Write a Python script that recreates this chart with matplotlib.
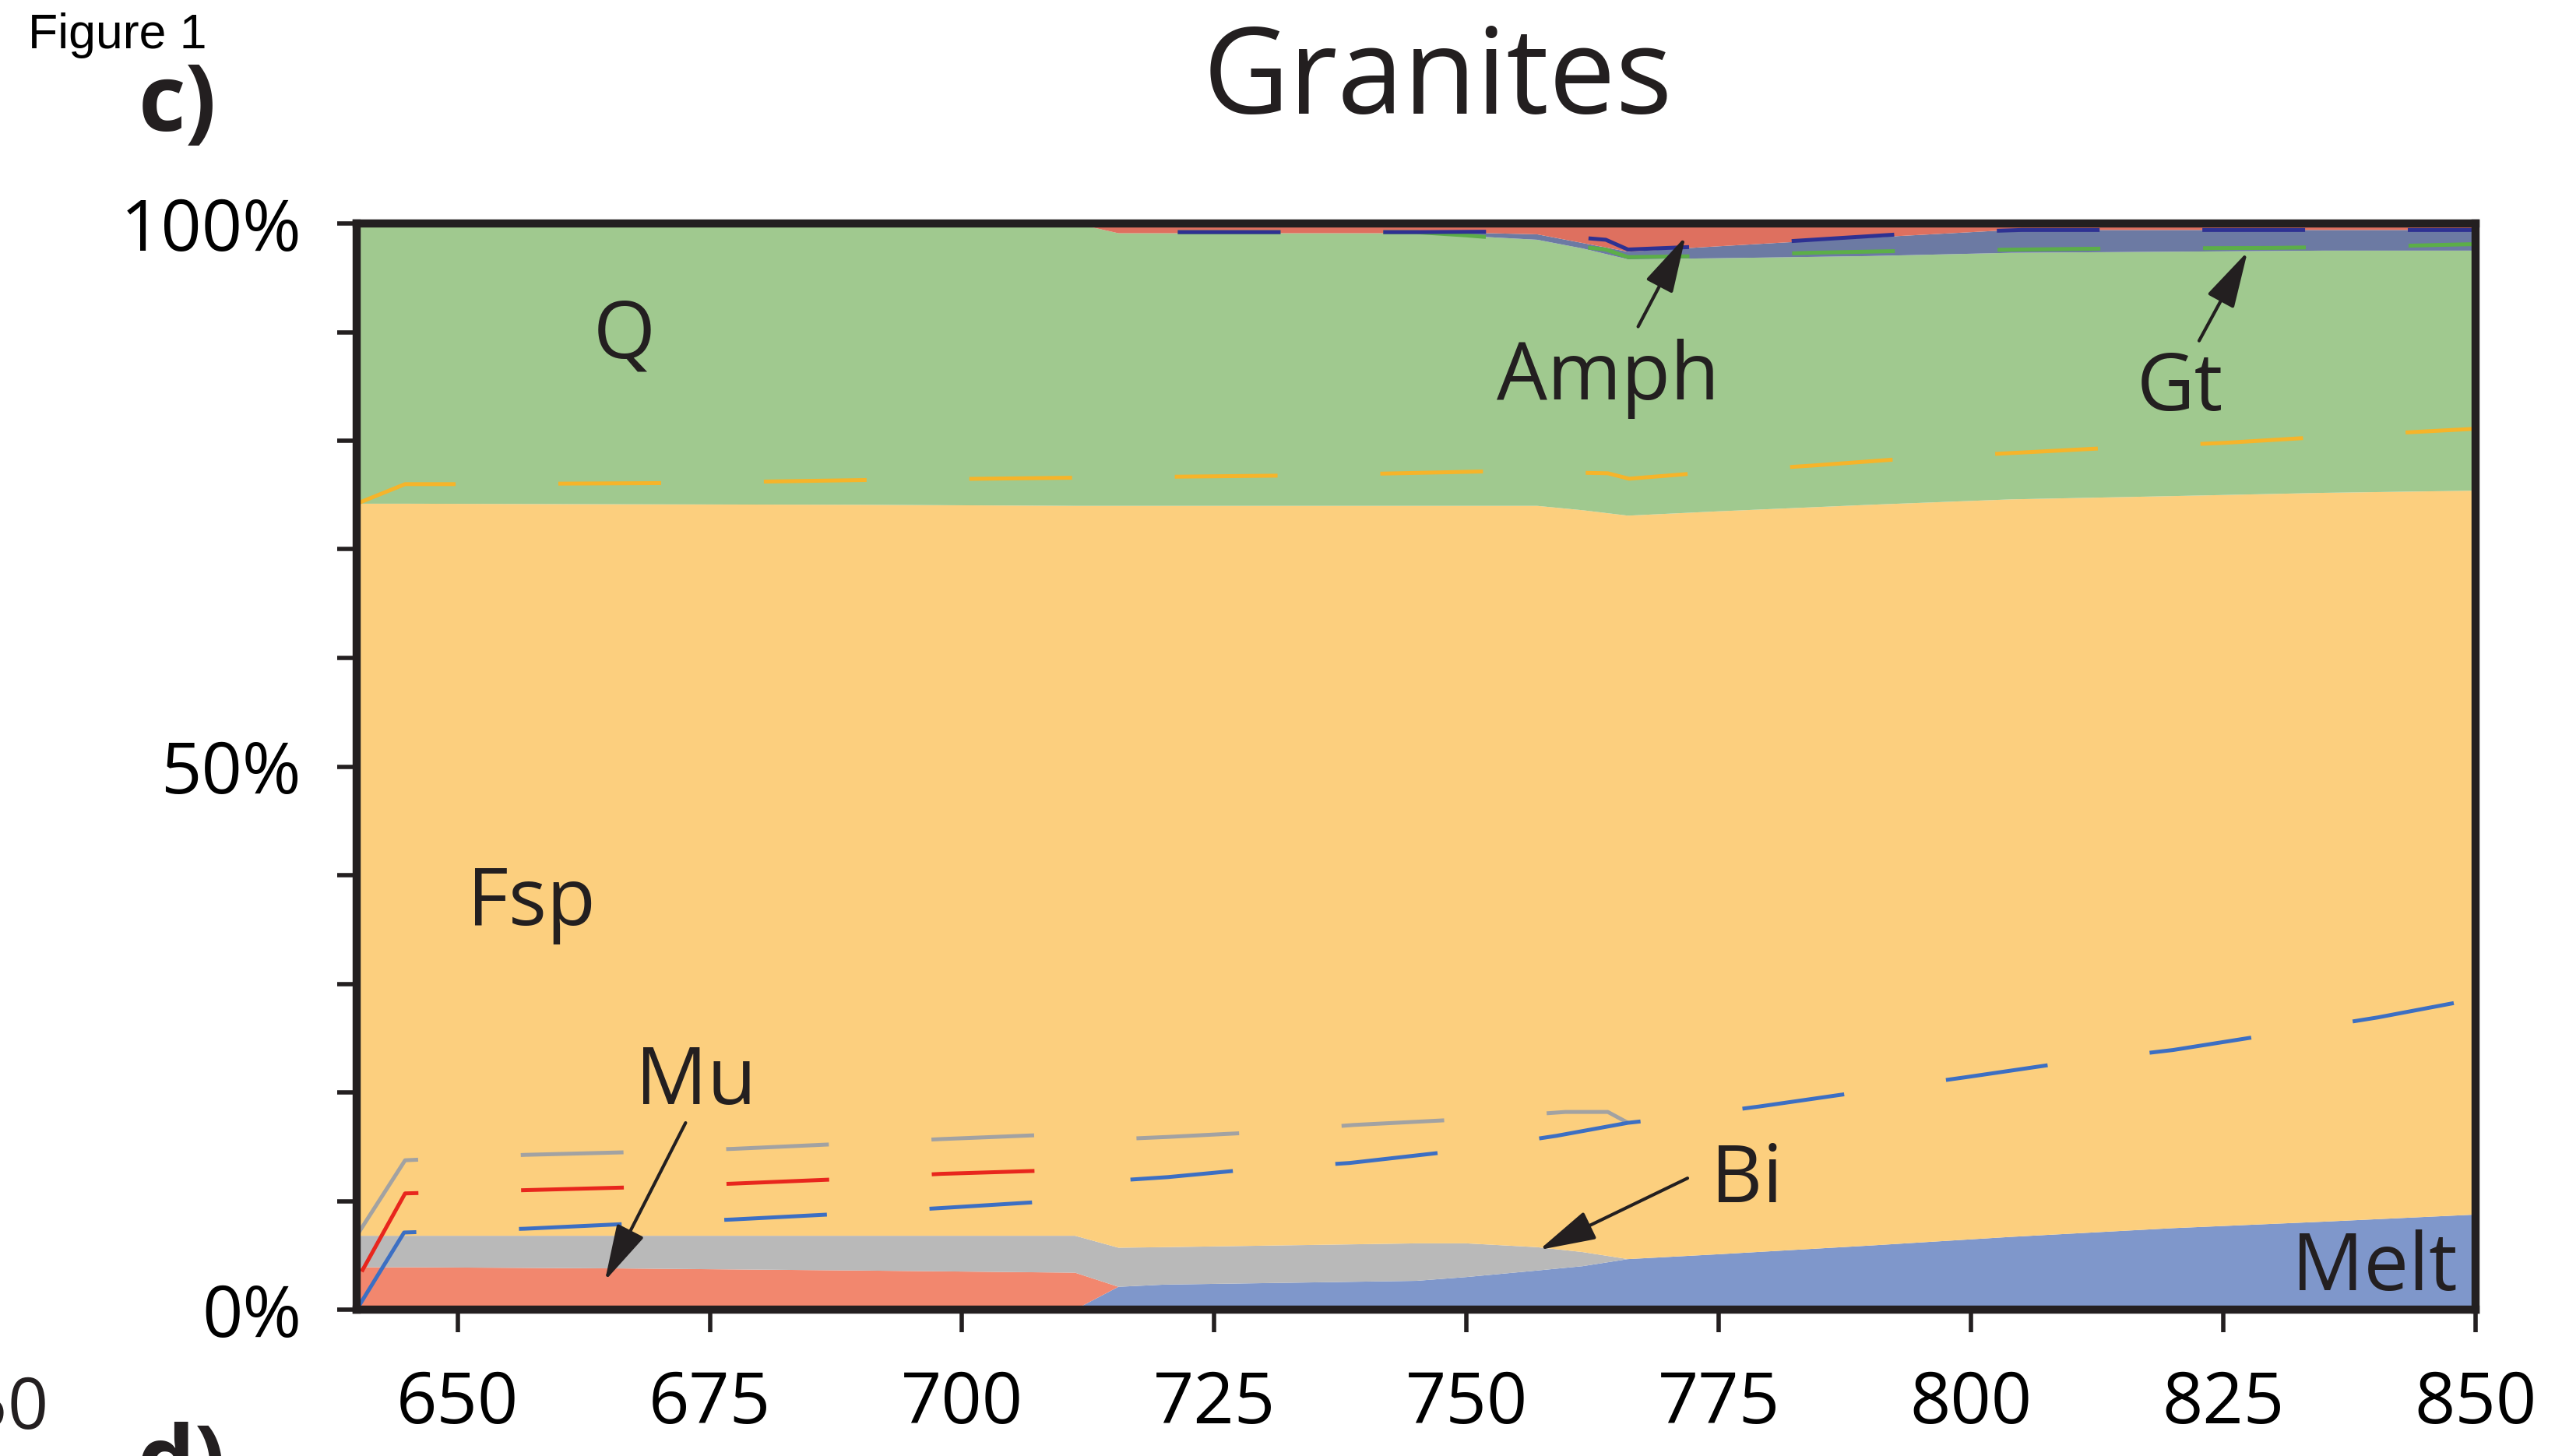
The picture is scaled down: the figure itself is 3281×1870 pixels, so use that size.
import matplotlib
matplotlib.use('Agg')
import matplotlib.pyplot as plt

plt.rcParams['font.family'] = ['Open Sans', 'DejaVu Sans']
plt.rcParams['lines.scale_dashes'] = False

# temperature (degC) and phase proportions (%), stacked from the bottom up
temp = [640, 645, 665, 690, 711.2, 715.5, 720, 745, 750, 757, 761.5, 766, 775, 790, 804, 820, 835, 850]
melt = [0, 0, 0, 0, 0, 2.1, 2.3, 2.65, 3.0, 3.6, 4.0, 4.65, 5.1, 5.9, 6.7, 7.5, 8.1, 8.75]
mu = [3.9, 3.9, 3.8, 3.6, 3.4, 0, 0, 0, 0, 0, 0, 0, 0, 0, 0, 0, 0, 0]
bi = [2.9, 2.9, 3.0, 3.2, 3.4, 3.6, 3.45, 3.45, 3.1, 2.15, 1.3, 0, 0, 0, 0, 0, 0, 0]
fsp = [67.4, 67.4, 67.35, 67.3, 67.2, 68.3, 68.25, 67.9, 67.9, 68.25, 68.3, 68.45, 68.4, 68.2, 67.9, 67.4, 67.1, 66.65]
qz = [25.8, 25.8, 25.85, 25.9, 26.0, 25.1, 25.1, 25.1, 24.85, 24.5, 24.1, 23.6, 23.3, 22.9, 22.7, 22.5, 22.3, 22.1]
gt = [0, 0, 0, 0, 0, 0, 0, 0, 0.3, 0.5, 0.5, 0.7, 1.1, 1.7, 2.1, 2.0, 1.9, 1.9]
amph = [0, 0, 0, 0, 0, 0.9, 0.9, 0.9, 0.85, 1.0, 1.8, 2.6, 2.1, 1.3, 0.6, 0.6, 0.6, 0.6]

phase_colors = ['#7f97cb', '#f2876e', '#b9b9b9', '#fccf7e', '#a0c98f', '#6c7aa3', '#de705f']

# dashed boundaries (cumulative %)
yel_t = [640, 644.8, 650.6, 671, 691.8, 712.2, 733, 753.4, 764, 766.1, 774.1, 784.1, 794.4, 804.8, 815.1, 825.1, 835.8, 850]
yel_v = [74.2, 76.0, 76.0, 76.1, 76.4, 76.6, 76.8, 77.2, 77.0, 76.5, 77.1, 77.7, 78.4, 78.9, 79.4, 79.8, 80.4, 81.1]

gry_t = [640, 644.8, 656.7, 667.3, 677.3, 687.9, 697.9, 708.5, 711.2, 715.5, 720.4, 728.8, 738.8, 749.3, 759.8, 764, 766]
gry_v = [6.8, 13.75, 14.25, 14.5, 14.8, 15.25, 15.7, 16.1, 16.2, 15.7, 15.9, 16.3, 17.0, 17.5, 18.2, 18.2, 17.2]

red_t = [640.5, 644.8, 656.7, 667, 677.3, 687.7, 697.9, 708.3, 711.2, 715.5]
red_v = [3.5, 10.7, 11.0, 11.25, 11.6, 12.0, 12.5, 12.8, 12.9, 11.9]

blu_t = [640, 644.7, 656.7, 667, 677.3, 687.7, 697.9, 708.3, 711.2, 715.5, 720.4, 728.4, 738.4, 748.9,
         758.9, 766, 769, 779, 789.5, 799.5, 809.8, 820, 830.2, 840.3, 850]
blu_v = [0, 7.1, 7.45, 7.9, 8.3, 8.8, 9.35, 9.95, 10.1, 11.9, 12.2, 12.9, 13.5, 14.6,
         16.0, 17.2, 17.5, 18.7, 20.1, 21.4, 22.8, 23.9, 25.4, 26.9, 28.6]

grn_t = [640, 711.2, 715.5, 745, 750, 754, 763.8, 766, 774, 784, 795, 805, 815, 830, 841, 850]
grn_v = [100, 100, 99.2, 99.2, 98.9, 98.6, 97.6, 96.9, 97.0, 97.3, 97.5, 97.6, 97.7, 97.75, 97.9, 98.1]

dkb_t = [640, 711.2, 715.5, 745, 754, 763.8, 766, 774, 784.3, 794.6, 805, 850]
dkb_v = [100, 100, 99.2, 99.2, 99.25, 98.5, 97.6, 97.9, 98.5, 99.1, 99.4, 99.4]

W, H = 3281, 1870
fig = plt.figure(figsize=(W / 100, H / 100), dpi=100)
ax = fig.add_axes([458 / W, 1 - 1682 / H, (3179 - 458) / W, (1682 - 287) / H])

ax.stackplot(temp, melt, mu, bi, fsp, qz, gt, amph, colors=phase_colors, lw=0)

dash = (0, (95, 95))
line_kw = dict(lw=3.6, ls=dash, dash_capstyle='butt', zorder=2)
ax.plot(yel_t, yel_v, color='#f6b42a', **line_kw)
ax.plot(gry_t, gry_v, color='#a2a2a2', **line_kw)
ax.plot(red_t, red_v, color='#e8261d', **line_kw)
ax.plot(blu_t, blu_v, color='#3c6fc3', **line_kw)
ax.plot(grn_t, grn_v, color='#5cae48', **line_kw)
ax.plot(dkb_t, dkb_v, color='#2e3192', **line_kw)

ax.set_xlim(640, 850)
ax.set_ylim(0, 100)
ax.set_xticks(range(650, 851, 25))
ax.set_yticks([0, 50, 100])
ax.set_yticklabels(['0%', '50%', '100%'])
ax.set_yticks(range(10, 100, 10), minor=True)
ax.tick_params(axis='y', which='both', direction='out', length=18, width=4,
               pad=33, labelsize=66, color='#231f20')
ax.tick_params(axis='x', direction='out', length=21, width=4, pad=34,
               labelsize=66, color='#231f20')
for s in ax.spines.values():
    s.set_linewidth(7.5)
    s.set_color('#231f20')
    s.set_zorder(5)

# phase names
lab_kw = dict(fontsize=74, ha='center', va='baseline', color='#231f20')
ax.text(666.5, 87.6, 'Q', **lab_kw)
ax.text(657.3, 35.4, 'Fsp', **lab_kw)
ax.text(673.6, 18.9, 'Mu', **lab_kw)
ax.text(777.8, 9.9, 'Bi', **lab_kw)
ax.text(840.0, 1.8, 'Melt', **lab_kw)
ax.text(764.0, 83.8, 'Amph', **lab_kw)
ax.text(820.7, 82.8, 'Gt', **lab_kw)

arrow_kw = dict(arrowstyle='-|>,head_length=0.45,head_width=0.12', mutation_scale=100,
                lw=3, color='#231f20', shrinkA=0, shrinkB=0)
ax.annotate('', xy=(664.6, 2.65), xytext=(672.6, 17.2), arrowprops=arrow_kw)
ax.annotate('', xy=(757.2, 5.5), xytext=(771.9, 12.1), arrowprops=arrow_kw)
ax.annotate('', xy=(771.7, 98.8), xytext=(767.0, 90.5), arrowprops=arrow_kw)
ax.annotate('', xy=(827.4, 97.4), xytext=(822.6, 89.2), arrowprops=arrow_kw)

fig.text(1846 / W, 1 - 146 / H, 'Granites', fontsize=110, ha='center', va='baseline',
         color='#231f20')
fig.text(178 / W, 1 - 168 / H, 'c)', fontsize=85, fontweight='bold', va='baseline',
         color='#231f20')
fig.text(36 / W, 1 - 62 / H, 'Figure 1', fontsize=45, family='Liberation Sans',
         va='baseline')
# pieces of the next panel cut by the page edge
fig.text(63 / W, 1 - 1811 / H, '850', fontsize=66, ha='right', va='center',
         color='#231f20')
fig.text(176 / W, 1 - 1916 / H, 'd)', fontsize=85, fontweight='bold', va='baseline',
         color='#231f20')

fig.savefig('out.png', dpi=100, facecolor='white')
